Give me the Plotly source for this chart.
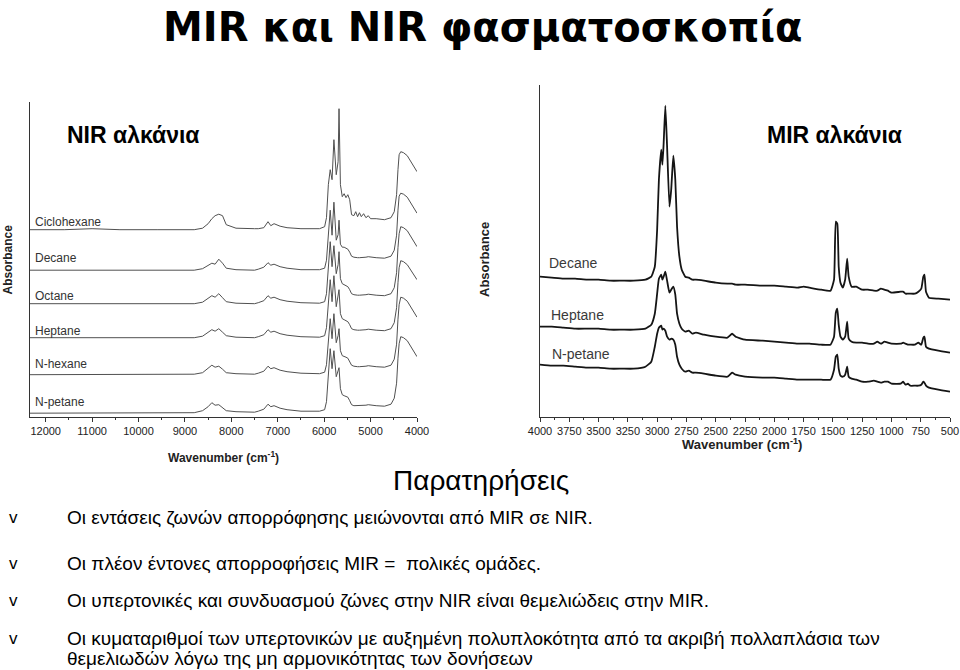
import plotly.graph_objects as go

# ---------------- NIR data (wavenumber cm-1, absorbance offset-stacked) ----------------
nir_wn = [12340, 11600, 11000, 10400, 9600, 8800, 8620, 8500, 8420, 8350,
          8270, 8190, 8110, 7900, 7500, 7420, 7300, 7210, 7150, 7080,
          6950, 6800, 6500, 6100, 5990, 5950, 5910, 5870, 5830, 5790,
          5740, 5700, 5680, 5650, 5610, 5570, 5530, 5490, 5450, 5410,
          5360, 5320, 5280, 5240, 5200, 5150, 5100, 5050, 5000, 4880,
          4700, 4560, 4490, 4440, 4410, 4385, 4350, 4290, 4210, 4130,
          4060, 4000]

nir_ciclohexane = [18.7, 18.7, 18.8, 18.7, 18.7, 18.7, 18.85, 19.3, 19.8, 20.1,
                   20.25, 20.1, 19.2, 18.85, 18.8, 18.8, 18.9, 19.5, 19.1, 19.3,
                   19.05, 18.9, 18.8, 18.8, 19.0, 19.9, 23.2, 24.7, 23.7, 27.7,
                   24.2, 25.5, 30.8, 23.2, 22.0, 22.3, 21.9, 22.2, 21.7, 20.2,
                   20.1, 20.5, 20.0, 20.4, 20.0, 20.3, 19.9, 20.1, 19.8, 19.8,
                   19.7, 19.9, 20.5, 22.2, 24.7, 26.2, 26.5, 26.4, 26.1, 25.5,
                   24.9, 24.5]
nir_decane = [14.65, 14.65, 14.7, 14.65, 14.65, 14.65, 14.8, 15.15, 15.35, 15.25,
              15.75, 15.35, 14.85, 14.7, 14.65, 14.75, 14.95, 15.4, 15.15, 15.25,
              15.0, 14.85, 14.7, 14.7, 14.85, 15.65, 18.65, 20.65, 18.15, 21.45,
              17.65, 18.2, 19.65, 17.25, 16.95, 16.95, 16.85, 16.75, 16.45, 16.05,
              15.95, 15.9, 15.9, 15.9, 15.9, 15.9, 15.95, 16.0, 15.95, 15.9,
              15.85, 16.05, 16.65, 18.15, 20.65, 22.05, 22.35, 22.25, 21.95, 21.35,
              20.85, 20.35]
nir_octane = [11.3, 11.3, 11.35, 11.3, 11.3, 11.3, 11.45, 11.8, 12.1, 11.95,
              12.3, 11.9, 11.5, 11.35, 11.3, 11.4, 11.6, 12.1, 11.85, 11.95,
              11.7, 11.55, 11.4, 11.35, 11.5, 12.3, 15.5, 17.5, 15.0, 17.1,
              14.3, 15.2, 16.5, 13.8, 13.3, 13.2, 13.1, 13.0, 12.7, 12.3,
              12.2, 12.15, 12.15, 12.15, 12.15, 12.15, 12.2, 12.25, 12.2, 12.15,
              12.1, 12.3, 12.9, 14.4, 16.9, 18.3, 19.0, 18.9, 18.6, 18.0,
              17.5, 17.0]
nir_heptane = [7.9, 7.9, 7.95, 7.9, 7.9, 7.9, 8.05, 8.4, 8.7, 8.55,
               8.8, 8.45, 8.1, 7.95, 7.9, 8.0, 8.2, 8.7, 8.45, 8.55,
               8.3, 8.15, 8.0, 7.95, 8.1, 8.9, 11.8, 13.7, 11.5, 14.1,
               11.0, 11.9, 12.7, 10.3, 9.8, 9.7, 9.6, 9.5, 9.2, 8.8,
               8.7, 8.65, 8.65, 8.65, 8.65, 8.65, 8.7, 8.75, 8.7, 8.65,
               8.6, 8.8, 9.4, 10.9, 13.4, 14.9, 15.6, 15.5, 15.2, 14.6,
               14.1, 13.7]
nir_nhexane = [4.2, 4.2, 4.25, 4.2, 4.2, 4.25, 4.4, 4.8, 5.15, 4.95,
               5.05, 4.75, 4.4, 4.3, 4.25, 4.35, 4.55, 5.05, 4.8, 4.9,
               4.65, 4.5, 4.35, 4.3, 4.45, 5.2, 7.9, 9.8, 7.8, 10.3,
               7.4, 8.1, 8.8, 6.6, 6.1, 6.05, 5.95, 5.85, 5.55, 5.15,
               5.05, 5.0, 5.0, 5.0, 5.0, 5.0, 5.05, 5.1, 5.05, 5.0,
               4.95, 5.15, 5.75, 7.25, 9.75, 11.2, 11.95, 11.85, 11.55, 10.95,
               10.45, 9.95]
nir_npetane = [0.35, 0.35, 0.4, 0.35, 0.4, 0.4, 0.6, 1.0, 1.4, 1.15,
               1.2, 0.9, 0.6, 0.5, 0.45, 0.55, 0.75, 1.25, 1.0, 1.1,
               0.85, 0.7, 0.55, 0.55, 0.7, 1.5, 4.5, 6.8, 4.8, 6.6,
               4.0, 4.5, 4.9, 2.8, 2.2, 2.1, 2.05, 1.95, 1.6, 1.2,
               1.1, 1.1, 1.1, 1.1, 1.1, 1.1, 1.15, 1.2, 1.15, 1.1,
               1.05, 1.25, 1.85, 3.35, 5.85, 7.3, 8.0, 7.9, 7.6, 7.0,
               6.5, 6.0]

nir_names = ["Ciclohexane", "Decane", "Octane", "Heptane", "N-hexane", "N-petane"]
nir_series = [nir_ciclohexane, nir_decane, nir_octane, nir_heptane, nir_nhexane, nir_npetane]
nir_label_y = [19.5, 15.84, 12.07, 8.6, 5.27, 1.44]
nir_ticks = [12000, 11000, 10000, 9000, 8000, 7000, 6000, 5000, 4000]
nir_ticktext = ["12000", "11000", "10000", "9000", "8000", "7000", "6000", "5000", "4000"]

# ---------------- MIR data ----------------
mir_wn = [4000, 3900, 3800, 3700, 3600, 3500, 3400, 3300, 3200, 3100,
          3050, 3020, 3000, 2985, 2965, 2955, 2945, 2930, 2915, 2895,
          2880, 2862, 2845, 2830, 2810, 2790, 2760, 2730, 2700, 2670,
          2600, 2500, 2400, 2360, 2330, 2250, 2100, 2000, 1900, 1800,
          1750, 1700, 1600, 1520, 1490, 1475, 1462, 1450, 1435, 1415,
          1395, 1378, 1365, 1340, 1300, 1250, 1200, 1150, 1120, 1090,
          1060, 1030, 1000, 920, 900, 880, 860, 840, 800, 770,
          745, 728, 718, 705, 680, 600, 500]

mir_decane = [1.40, 1.39, 1.38, 1.38, 1.37, 1.37, 1.36, 1.36, 1.36, 1.37,
              1.40, 1.50, 1.87, 2.37, 2.67, 2.52, 2.72, 3.11, 2.70, 2.10,
              2.27, 2.61, 2.37, 1.90, 1.60, 1.47, 1.40, 1.39, 1.37, 1.37,
              1.36, 1.34, 1.33, 1.33, 1.32, 1.32, 1.31, 1.31, 1.30, 1.29,
              1.30, 1.29, 1.27, 1.26, 1.37, 1.95, 1.93, 1.50, 1.34, 1.29,
              1.37, 1.58, 1.40, 1.30, 1.30, 1.27, 1.27, 1.26, 1.26, 1.28,
              1.27, 1.26, 1.24, 1.25, 1.25, 1.23, 1.23, 1.23, 1.23, 1.25,
              1.28, 1.40, 1.42, 1.25, 1.19, 1.18, 1.17]
mir_heptane = [0.90, 0.90, 0.89, 0.88, 0.88, 0.88, 0.87, 0.87, 0.87, 0.88,
               0.92, 1.03, 1.23, 1.38, 1.42, 1.37, 1.40, 1.45, 1.36, 1.24,
               1.27, 1.30, 1.22, 1.03, 0.93, 0.88, 0.85, 0.86, 0.83, 0.84,
               0.82, 0.80, 0.79, 0.83, 0.80, 0.77, 0.76, 0.75, 0.74, 0.73,
               0.73, 0.73, 0.72, 0.72, 0.80, 1.04, 1.08, 0.92, 0.80, 0.77,
               0.80, 0.95, 0.78, 0.75, 0.74, 0.74, 0.73, 0.73, 0.75, 0.73,
               0.75, 0.74, 0.73, 0.73, 0.74, 0.73, 0.72, 0.72, 0.72, 0.74,
               0.72, 0.79, 0.80, 0.70, 0.68, 0.66, 0.64]
mir_npetane = [0.52, 0.51, 0.51, 0.50, 0.49, 0.49, 0.48, 0.48, 0.48, 0.50,
               0.55, 0.70, 0.83, 0.89, 0.91, 0.87, 0.88, 0.86, 0.80, 0.77,
               0.78, 0.77, 0.72, 0.60, 0.52, 0.48, 0.45, 0.46, 0.44, 0.44,
               0.43, 0.41, 0.40, 0.44, 0.42, 0.40, 0.39, 0.39, 0.38, 0.37,
               0.37, 0.37, 0.37, 0.37, 0.47, 0.60, 0.62, 0.48, 0.41, 0.40,
               0.42, 0.50, 0.40, 0.38, 0.37, 0.35, 0.35, 0.36, 0.35, 0.34,
               0.35, 0.35, 0.33, 0.33, 0.35, 0.32, 0.33, 0.31, 0.31, 0.31,
               0.32, 0.35, 0.34, 0.31, 0.29, 0.27, 0.25]

mir_names = ["Decane", "Heptane", "N-petane"]
mir_series = [mir_decane, mir_heptane, mir_npetane]
mir_label_x = [3943, 3926, 3915]
mir_label_y = [1.534, 1.017, 0.627]
mir_ticks = [4000, 3750, 3500, 3250, 3000, 2750, 2500, 2250, 2000, 1750, 1500, 1250, 1000, 750, 500]
mir_ticktext = ["4000", "3750", "3500", "3250", "3000", "2750", "2500", "2250", "2000",
                "1750", "1500", "1250", "1000", "750", "500"]

# ---------------- Text ----------------
title_text = "MIR και NIR φασματοσκοπία"
nir_heading = "NIR αλκάνια"
mir_heading = "MIR αλκάνια"
notes_heading = "Παρατηρήσεις"
bullet_lines = [
    "Οι εντάσεις ζωνών απορρόφησης μειώνονται από MIR σε NIR.",
    "Οι πλέον έντονες απορροφήσεις MIR =  πολικές ομάδες.",
    "Οι υπερτονικές και συνδυασμού ζώνες στην NIR είναι θεμελιώδεις στην MIR.",
    "Οι κυματαριθμοί των υπερτονικών με αυξημένη πολυπλοκότητα από τα ακριβή πολλαπλάσια των",
]
bullet_continuation = "θεμελιωδών λόγω της μη αρμονικότητας των δονήσεων"

FONT = "Liberation Sans, Arial, Helvetica, sans-serif"
WIDE_FONT = "DejaVu Sans, Liberation Sans, Arial, sans-serif"
W, H = 960, 670


def px(x):
    return x / W


def py(y):
    return 1 - y / H


def note(x, y, text, size, xanchor="center", color="#000", angle=0, family=FONT):
    return dict(x=px(x), y=py(y), xref="paper", yref="paper", showarrow=False,
                xanchor=xanchor, yanchor="middle", textangle=angle, text=text,
                font=dict(family=family, size=size, color=color))


fig = go.Figure()

for name, ys in zip(nir_names, nir_series):
    fig.add_trace(go.Scatter(x=nir_wn, y=ys, mode="lines", name=name,
                             line=dict(color="#505050", width=1),
                             xaxis="x", yaxis="y", showlegend=False, hoverinfo="skip"))

for name, ys in zip(mir_names, mir_series):
    fig.add_trace(go.Scatter(x=mir_wn, y=ys, mode="lines", name=name,
                             line=dict(color="#151515", width=1.8, shape="spline", smoothing=0.4),
                             xaxis="x2", yaxis="y2", showlegend=False, hoverinfo="skip"))

annotations = []
for name, yv in zip(nir_names, nir_label_y):
    annotations.append(dict(x=12273, y=yv, xref="x", yref="y", text=name, showarrow=False,
                            xanchor="left", yanchor="middle",
                            font=dict(family=FONT, size=12, color="#333333")))
for name, xv, yv in zip(mir_names, mir_label_x, mir_label_y):
    annotations.append(dict(x=xv, y=yv, xref="x2", yref="y2", text=name, showarrow=False,
                            xanchor="left", yanchor="middle",
                            font=dict(family=FONT, size=14, color="#3a3a3a")))

annotations += [
    note(223, 457, "<b>Wavenumber (cm<sup>-1</sup>)</b>", 12, color="#222"),
    note(742, 444, "<b>Wavenumber (cm<sup>-1</sup>)</b>", 13, color="#222"),
    note(7.5, 260, "<b>Absorbance</b>", 12, color="#222", angle=-90),
    note(484, 260, "<b>Absorbance</b>", 13, color="#222", angle=-90),
    note(483, 27, "<b>" + title_text + "</b>", 40, family=WIDE_FONT),
    note(65, 135, "<b>" + nir_heading + "</b>", 23, xanchor="left"),
    note(765, 135, "<b>" + mir_heading + "</b>", 23, xanchor="left"),
    note(481, 480, notes_heading, 28),
]

bullet_y = [517, 563, 600, 638]
for t, yy in zip(bullet_lines, bullet_y):
    annotations.append(note(13, yy, "v", 17))
    annotations.append(note(65, yy, t, 19, xanchor="left"))
annotations.append(note(65, 658, bullet_continuation, 19, xanchor="left"))

axis_common = dict(showgrid=False, zeroline=False, showline=True, linecolor="#333",
                   linewidth=1, automargin=False)

fig.update_layout(
    width=W, height=H,
    margin=dict(l=0, r=0, t=0, b=0, autoexpand=False),
    paper_bgcolor="white", plot_bgcolor="white",
    showlegend=False,
    xaxis=dict(domain=[30 / W, 417 / W], range=[12338, 4000], anchor="y",
               tickmode="array", tickvals=nir_ticks, ticktext=nir_ticktext,
               ticks="outside", ticklen=4, tickcolor="#333",
               minor=dict(dtick=500, ticks="outside", ticklen=2, tickcolor="#333"),
               tickfont=dict(family=FONT, size=11, color="#222"), **axis_common),
    yaxis=dict(domain=[1 - 416.7 / H, 1 - 102 / H], range=[0, 31.47], anchor="x",
               showticklabels=False, ticks="", **axis_common),
    xaxis2=dict(domain=[540 / W, 950 / W], range=[4000, 500], anchor="y2",
                tickmode="array", tickvals=mir_ticks, ticktext=mir_ticktext,
                ticks="outside", ticklen=4, tickcolor="#333",
                minor=dict(dtick=125, ticks="outside", ticklen=2, tickcolor="#333"),
                tickfont=dict(family=FONT, size=11, color="#222"), **axis_common),
    yaxis2=dict(domain=[1 - 416.7 / H, 1 - 85 / H], range=[0, 3.317], anchor="x2",
                showticklabels=False, ticks="", **axis_common),
    annotations=annotations,
)

fig.write_html("out.html")
